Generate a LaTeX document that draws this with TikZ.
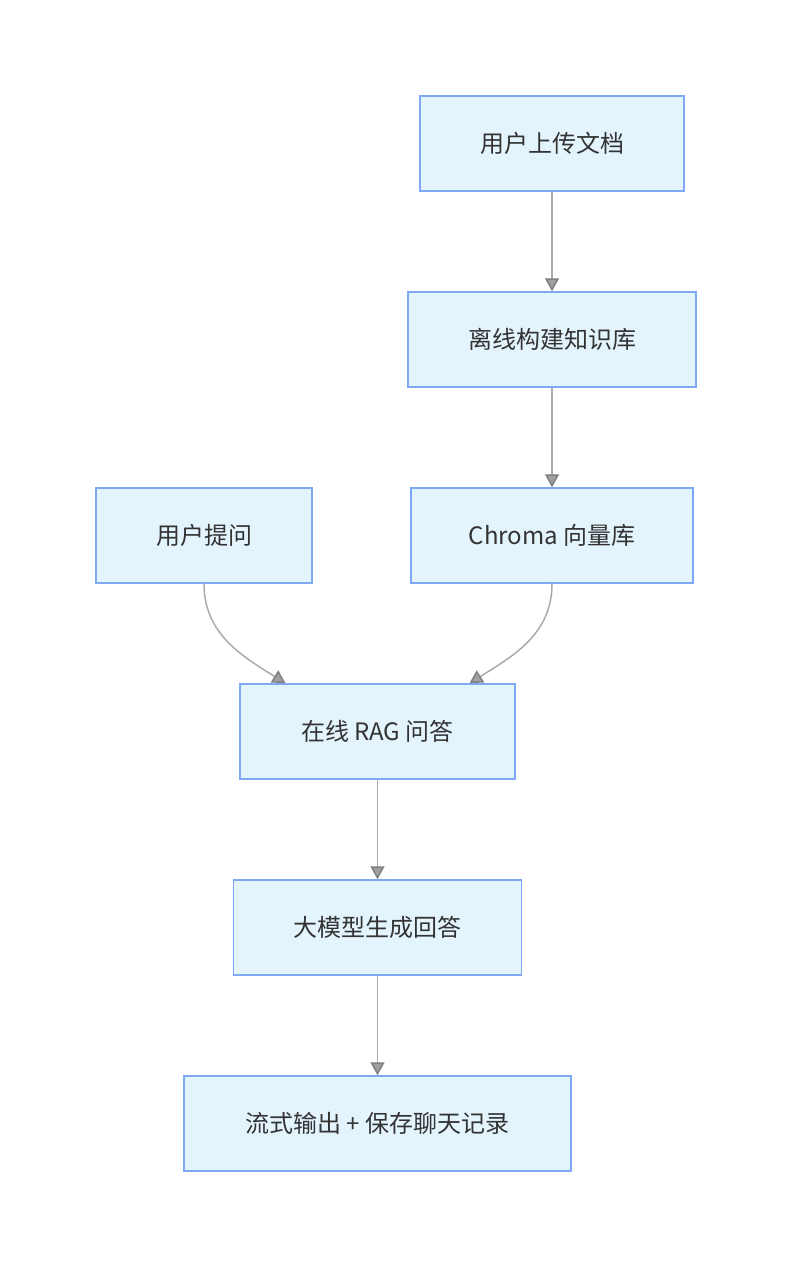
\documentclass[tikz,border=0pt]{standalone}
\usepackage{fontspec}
\setmainfont{Noto Sans CJK SC}
\usetikzlibrary{arrows.meta,positioning}
\definecolor{boxfill}{HTML}{E4F4FD}
\definecolor{boxline}{HTML}{7EA9F5}
\definecolor{linegray}{HTML}{ABABAB}
\definecolor{tipgray}{HTML}{A0A0A0}
\definecolor{textgray}{HTML}{333333}

\begin{document}
\begin{tikzpicture}[x=1pt,y=1pt,node distance=196pt,on grid,
	box/.style={draw=boxline,fill=boxfill,line width=1.5pt,minimum height=95pt,inner sep=0pt,
		text=textgray,font=\fontsize{24}{28}\selectfont},
	flow/.style={draw=linegray,line width=1.5pt,
		-{Triangle[length=13pt,width=14pt,fill=tipgray,color=gray]}}]
	   \useasboundingbox (0,0) rectangle (792,-1268);
	   \node[box,minimum width=264pt] (upload) at (552,-143.5) {用户上传文档};
	   \node[box,minimum width=288pt] [below=of upload] (build) {离线构建知识库};
	   \node[box,minimum width=282pt] [below=of build] (chroma) {Chroma 向量库};
	   \node[box,minimum width=216pt] [left=348pt of chroma] (ask) {用户提问};
	   \node[box,minimum width=275pt] [below left=196pt and 174.5pt of chroma] (rag) {在线 RAG 问答};
	   \node[box,minimum width=288pt] [below=of rag] (llm) {大模型生成回答};
	   \node[box,minimum width=387pt] [below=of llm] (stream) {流式输出 + 保存聊天记录};
	   \path[flow]
			(upload) edge (build)
			(build) edge (chroma)
			(rag) edge (llm)
			(llm) edge (stream);
	   \draw[flow] (ask.south) to[out=-90,in=148] ([xshift=-92pt]rag.north);
	   \draw[flow] (chroma.south) to[out=-90,in=32] ([xshift=92pt]rag.north);
	\end{tikzpicture}
\end{document}
